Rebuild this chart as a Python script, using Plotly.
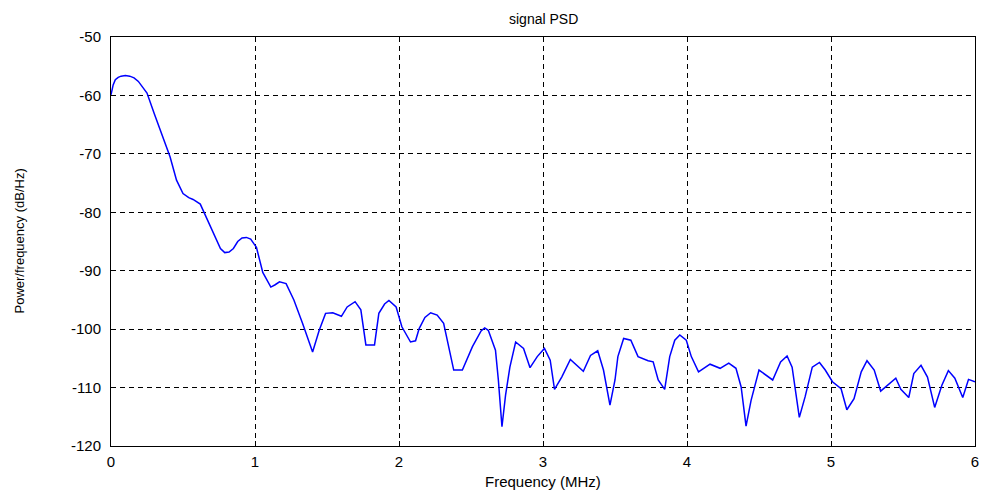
import plotly.graph_objects as go

# Frequency axis (MHz) and estimated power spectral density (dB/Hz)
freq_mhz = [
    0.00, 0.015, 0.03, 0.05, 0.07, 0.10, 0.13, 0.16, 0.19, 0.22, 0.25, 0.30,
    0.36, 0.41, 0.455, 0.50, 0.54, 0.57, 0.62, 0.66, 0.72, 0.76, 0.79, 0.82,
    0.85, 0.88, 0.91, 0.94, 0.97, 1.01, 1.054, 1.11, 1.14, 1.17, 1.216,
    1.27, 1.33, 1.40, 1.446, 1.49, 1.54, 1.60, 1.64, 1.695, 1.735, 1.77, 1.83,
    1.86, 1.90, 1.93, 1.98, 2.02, 2.08, 2.115, 2.14, 2.18, 2.22, 2.265, 2.31, 2.38, 2.44,
    2.51, 2.57, 2.595, 2.62, 2.67, 2.69, 2.715, 2.74, 2.77, 2.81, 2.865, 2.91, 2.96,
    3.01, 3.05, 3.08, 3.13, 3.19, 3.28, 3.33, 3.38, 3.42, 3.465, 3.50, 3.52,
    3.56, 3.61, 3.66, 3.73, 3.765, 3.80, 3.845, 3.88, 3.915, 3.95, 3.995, 4.03,
    4.08, 4.16, 4.23, 4.29, 4.34, 4.376, 4.41, 4.445, 4.50, 4.595, 4.65, 4.695,
    4.73, 4.78, 4.82, 4.87, 4.92, 4.96, 5.01, 5.07, 5.11, 5.16, 5.21, 5.25,
    5.30, 5.345, 5.45, 5.485, 5.54, 5.575, 5.625, 5.67, 5.72, 5.77, 5.815, 5.86,
    5.915, 5.955, 6.00,
]
psd_db = [
    -59.9, -58.2, -57.3, -56.9, -56.7, -56.6, -56.7, -57.0, -57.6, -58.5, -59.6, -63.1,
    -67.1, -70.5, -74.5, -76.8, -77.5, -77.8, -78.6, -80.8, -84.2, -86.2, -86.9, -86.8,
    -86.2, -85.0, -84.4, -84.3, -84.6, -86.0, -90.3, -92.8, -92.4, -91.9, -92.2,
    -95.0, -99.0, -103.9, -100.2, -97.3, -97.2, -97.8, -96.2, -95.3, -96.7, -102.7, -102.7,
    -97.3, -95.7, -95.1, -96.2, -99.6, -102.2, -102.0, -99.9, -98.0, -97.2, -97.6, -99.0, -107.0, -107.0,
    -103.0, -100.3, -99.8, -100.2, -103.6, -108.7, -116.7, -111.3, -106.5, -102.2, -103.3, -106.6, -104.7,
    -103.3, -105.3, -110.3, -108.2, -105.2, -107.2, -104.5, -103.7, -107.0, -113.0, -108.7, -104.7,
    -101.6, -101.9, -104.7, -105.4, -105.6, -108.7, -110.3, -104.7, -101.9, -101.0, -101.9, -104.7,
    -107.3, -106.0, -106.7, -105.8, -106.7, -109.9, -116.6, -112.2, -107.0, -108.7, -105.6, -104.6,
    -106.5, -115.1, -111.6, -106.5, -105.7, -107.0, -109.0, -110.2, -113.8, -111.9, -107.3, -105.4,
    -107.0, -110.6, -108.4, -110.3, -111.7, -107.6, -106.2, -108.2, -113.4, -109.6, -107.1, -108.4,
    -111.7, -108.6, -109.0,
]

x_ticks = [0, 1, 2, 3, 4, 5, 6]
y_ticks = [-120, -110, -100, -90, -80, -70, -60, -50]

font_family = "Liberation Sans, Arial, sans-serif"

fig = go.Figure()
fig.add_trace(go.Scatter(
    x=freq_mhz, y=psd_db, mode="lines",
    line=dict(color="#0000ff", width=1.5),
    showlegend=False, hoverinfo="x+y",
))

axis_common = dict(
    showline=True, linecolor="black", linewidth=1, mirror=True,
    showgrid=True, gridcolor="black", gridwidth=1, griddash="5px,4px",
    ticks="inside", ticklen=5, tickcolor="black",
    zeroline=False,
    tickfont=dict(family=font_family, size=15, color="black"),
)

fig.update_layout(
    width=986, height=491,
    margin=dict(l=111, r=7, t=37, b=45),
    paper_bgcolor="white", plot_bgcolor="white",
    font=dict(family=font_family, color="black"),
    xaxis=dict(range=[0, 6], tickvals=x_ticks, ticktext=[str(v) for v in x_ticks],
               ticklabelstandoff=2, **axis_common),
    yaxis=dict(range=[-120, -50], tickvals=y_ticks, ticktext=[str(v) for v in y_ticks],
               ticklabelstandoff=6, **axis_common),
    annotations=[
        dict(text="signal PSD", xref="paper", yref="paper", x=0.5, y=1,
             yshift=8, xanchor="center", yanchor="bottom", showarrow=False,
             font=dict(family=font_family, size=14)),
        dict(text="Frequency (MHz)", xref="paper", yref="paper", x=0.5, y=0,
             yshift=-25, xanchor="center", yanchor="top", showarrow=False,
             font=dict(family=font_family, size=15)),
        dict(text="Power/frequency (dB/Hz)", xref="paper", yref="paper", x=0, y=0.5,
             xshift=-92, xanchor="center", yanchor="middle", textangle=-90,
             showarrow=False, font=dict(family=font_family, size=13)),
    ],
)

fig.write_html("out.html")
